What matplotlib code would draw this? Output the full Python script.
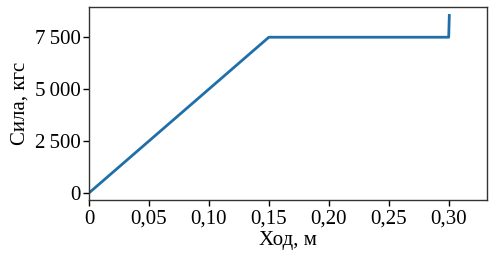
import numpy as np
import matplotlib
matplotlib.use("Agg")
from matplotlib import pyplot as plt

# ход штока, м и сила, кгс
stroke = [0.0, 0.15, 0.30, 0.3005]
force = [0.0, 7500.0, 7500.0, 8550.0]

x_ticks = [0, 0.05, 0.10, 0.15, 0.20, 0.25, 0.30]
x_labels = ["0", "0,05", "0,10", "0,15", "0,20", "0,25", "0,30"]
y_ticks = [0, 2500, 5000, 7500]
y_labels = ["0", "2\u2009500", "5\u2009000", "7\u2009500"]

plt.rcParams['font.family'] = ['Liberation Serif', 'DejaVu Serif']
plt.rcParams['font.size'] = 15

fig = plt.figure(figsize=(4.93, 2.54), dpi=100)
ax = fig.add_axes([0.1805, 0.2126, 0.8075, 0.7594])
ax.plot(stroke, force, color='#1f6fa8', lw=2)

ax.set_xlim(0, 0.332)
ax.set_ylim(-340, 8950)
ax.set_xticks(x_ticks)
ax.set_xticklabels(x_labels)
ax.set_yticks(y_ticks)
ax.set_yticklabels(y_labels)
ax.tick_params(direction='out', length=4, width=1)
ax.tick_params(axis='x', pad=3)
ax.tick_params(axis='y', pad=2)
for s in ax.spines.values():
    s.set_linewidth(1)
    s.set_color('#333333')

ax.set_xlabel("Ход, м", labelpad=2)
ax.set_ylabel("Сила, кгс", labelpad=4)

fig.savefig("out.png", dpi=100)
